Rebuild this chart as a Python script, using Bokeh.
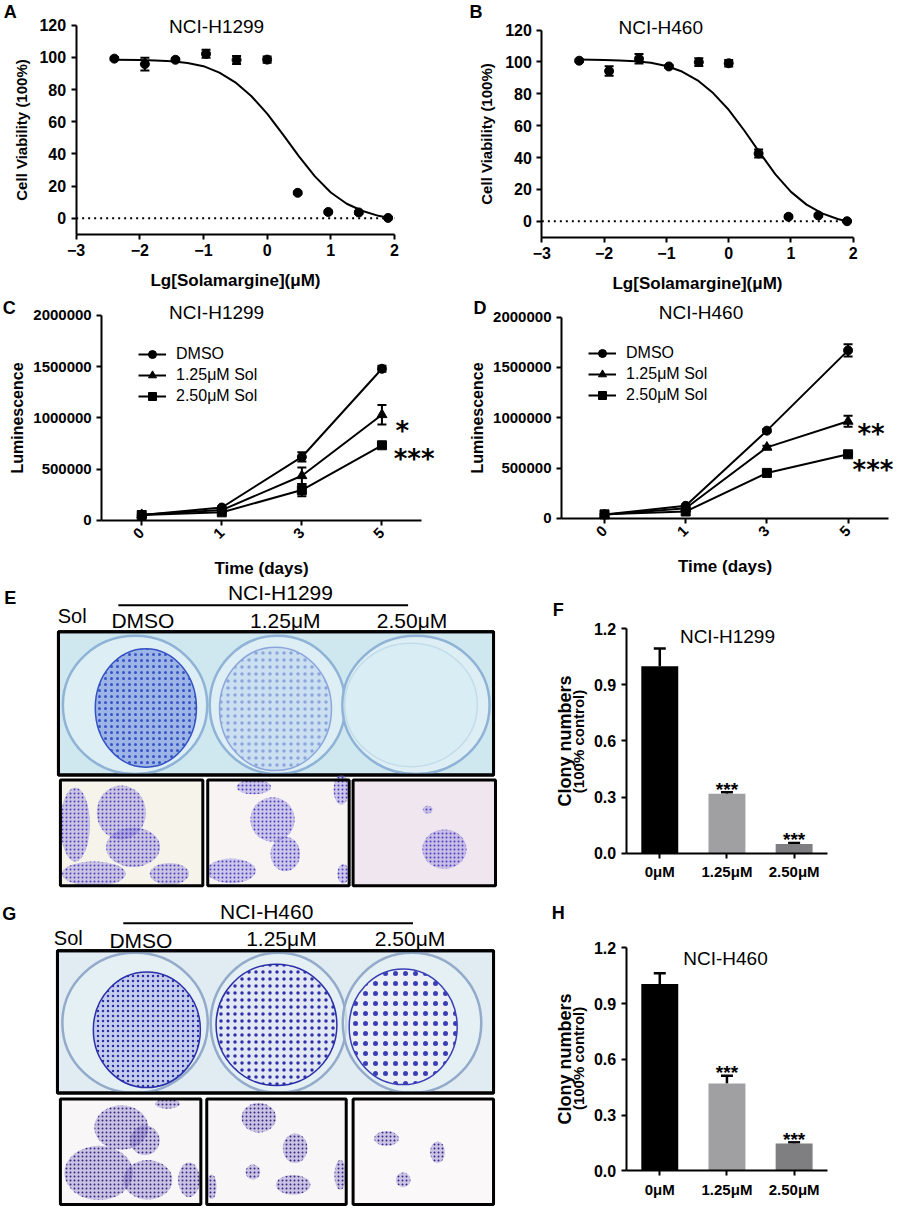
import math
from bokeh.plotting import figure
from bokeh.models import (Range1d, Label, Whisker, TeeHead, ColumnDataSource,
                          Legend, LegendItem, FixedTicker, NumeralTickFormatter,
                          BasicTickFormatter)
from bokeh.layouts import row, column
from bokeh.embed import file_html
from bokeh.resources import INLINE

FONT = "Liberation Sans"
STAR_FONT = "DejaVu Sans"

# ---------------- data ----------------
log_conc = [-2.4, -1.92, -1.44, -0.96, -0.48, 0.0, 0.48, 0.96, 1.44, 1.9]
viab_h1299 = [99.2, 95.8, 98.5, 102.2, 98.4, 98.6, 15.8, 3.9, 3.6, 0.2]
err_h1299 = [0.8, 4.0, 1.0, 2.5, 2.5, 2.0, 0.8, 0.8, 0.8, 0.5]
viab_h460 = [100.8, 94.3, 102.0, 97.2, 99.9, 99.2, 42.6, 2.9, 3.7, 0.1]
err_h460 = [0.8, 3.0, 3.0, 0.8, 2.5, 2.0, 2.5, 0.8, 0.8, 0.5]

fit_x = [-2.4, -2.0, -1.75, -1.5, -1.25, -1.0, -0.75, -0.5, -0.25, 0.0,
         0.25, 0.5, 0.75, 1.0, 1.25, 1.5, 1.75, 1.9]
fit_h1299 = [98.5, 98.3, 98.0, 97.5, 96.5, 94.5, 90.5, 84.5, 76.0, 65.0,
             52.0, 38.5, 26.0, 16.0, 9.0, 4.5, 1.5, 0.3]
fit_h460 = [101.5, 101.3, 101.0, 100.5, 99.5, 97.5, 94.0, 88.5, 80.5, 70.0,
            57.0, 43.0, 29.5, 18.5, 10.5, 5.0, 1.5, 0.0]

days = ["0", "1", "3", "5"]
series_names = ["DMSO", "1.25μM Sol", "2.50μM Sol"]
series_markers = ["circle", "triangle", "square"]
lum_h1299 = [[52000, 125000, 618000, 1478000],
             [55000, 100000, 435000, 1030000],
             [52000, 78000, 295000, 732000]]
lum_h1299_err = [[8000, 10000, 45000, 30000],
                 [6000, 8000, 80000, 95000],
                 [5000, 6000, 60000, 15000]]
lum_h460 = [[38000, 125000, 872000, 1670000],
            [35000, 100000, 706000, 965000],
            [40000, 68000, 452000, 637000]]
lum_h460_err = [[5000, 8000, 15000, 60000],
                [5000, 5000, 15000, 55000],
                [5000, 5000, 15000, 15000]]
stars_h1299 = ["", "*", "***"]
stars_h460 = ["", "**", "***"]

dose_cats = ["0μM", "1.25μM", "2.50μM"]
bar_colors = ["#000000", "#a0a0a2", "#7f7f81"]
clony_h1299 = [1.0, 0.317, 0.048]
clony_h1299_err = [0.095, 0.008, 0.006]
clony_h460 = [1.005, 0.47, 0.148]
clony_h460_err = [0.058, 0.042, 0.006]
bar_stars = ["", "***", "***"]

plate_labels = ["DMSO", "1.25μM", "2.50μM"]

# ---------------- layout helpers ----------------
KX = 897 / 913
KY = 1208 / 1224
ROW2_END = 587


class Panel:
    """Figure whose frame fills the whole cell; axes sit at fixed data locations."""

    def __init__(self, cell, frame, xr, yr):
        self.cell, self.frame, self.xr, self.yr = cell, frame, xr, yr
        x0, y0, x1, y1 = cell
        fx0, fy0, fx1, fy1 = frame
        self.sx = (xr[1] - xr[0]) / (fx1 - fx0)
        self.sy = (yr[1] - yr[0]) / (fy1 - fy0)
        X0, X1 = self.dx(x0), self.dx(x1)
        Y0, Y1 = self.dy(y1), self.dy(y0)
        W = round((x1 - x0) * KX)
        H = round((y1 - y0) * KY)
        p = figure(width=W, height=H, x_range=Range1d(X0, X1), y_range=Range1d(Y0, Y1),
                   title=None, min_border=0, frame_align=False,
                   output_backend="svg", toolbar_location=None)
        p.grid.visible = False
        p.outline_line_color = None
        p.xaxis.fixed_location = yr[0]
        p.yaxis.fixed_location = xr[0]
        p.xaxis.bounds = (xr[0], xr[1])
        p.yaxis.bounds = (yr[0], yr[1])
        for ax in (p.xaxis, p.yaxis):
            ax.axis_line_width = 2
            ax.axis_line_color = "black"
            ax.major_tick_line_width = 2
            ax.major_tick_line_color = "black"
            ax.major_tick_out = 5
            ax.major_tick_in = 0
            ax.minor_tick_line_color = None
            ax.major_label_text_font = FONT
            ax.major_label_text_font_style = "bold"
            ax.major_label_text_color = "black"
            ax.axis_label_text_font = FONT
            ax.axis_label_text_font_style = "bold"
            ax.axis_label_text_color = "black"
        self.p = p

    def dx(self, px):
        return self.xr[0] + (px - self.frame[0]) * self.sx

    def dy(self, py):
        return self.yr[1] - (py - self.frame[1]) * self.sy

    def put(self, px, py, text, size, bold=False, align="center",
            baseline="middle", angle=0.0, font=FONT):
        self.p.add_layout(Label(x=self.dx(px), y=self.dy(py), text=text, text_font=font,
                                text_font_size=f"{size}px",
                                text_font_style="bold" if bold else "normal",
                                text_align=align, text_baseline=baseline, angle=angle,
                                text_color="black"))

    def legend_loc(self, px_left, py_bottom):
        return (round((px_left - self.cell[0]) * KX), round((self.cell[3] - py_bottom) * KY))


# ---------------- dose-response panels ----------------
def dose_panel(cell, frame, letter, letter_pos, title, title_pos, ys, errs, fit_y):
    xr, yr = (-3, 2), (-10, 120)
    P = Panel(cell, frame, xr, yr)
    p = P.p
    p.xaxis.ticker = FixedTicker(ticks=[-3, -2, -1, 0, 1, 2])
    p.yaxis.ticker = FixedTicker(ticks=[0, 20, 40, 60, 80, 100, 120])
    p.xaxis.major_label_text_font_size = "16px"
    p.yaxis.major_label_text_font_size = "16px"
    p.xaxis.axis_label_text_font_size = "17px"
    p.yaxis.axis_label_text_font_size = "15px"
    p.xaxis.axis_label = "Lg[Solamargine](μM)"
    p.yaxis.axis_label = "Cell Viability (100%)"
    p.xaxis.axis_label_standoff = 11
    p.yaxis.axis_label_standoff = 7
    p.line(list(xr), [0, 0], line_color="black", line_width=2, line_dash="2 4")
    p.line(fit_x, fit_y, line_color="black", line_width=2)
    src = ColumnDataSource(dict(x=log_conc, y=ys,
                                lo=[a - b for a, b in zip(ys, errs)],
                                hi=[a + b for a, b in zip(ys, errs)]))
    p.add_layout(Whisker(source=src, base="x", lower="lo", upper="hi",
                         line_width=2, line_color="black",
                         upper_head=TeeHead(size=9, line_width=2, line_color="black"),
                         lower_head=TeeHead(size=9, line_width=2, line_color="black")))
    p.scatter("x", "y", source=src, marker="circle", size=9, color="black")
    P.put(letter_pos[0], letter_pos[1], letter, 18, bold=True)
    P.put(title_pos[0], title_pos[1], title, 19)
    return p


pA = dose_panel((0, 0, 456, 300), (77, 25, 401, 237), "A", (10, 12),
                "NCI-H1299", (220, 26), viab_h1299, err_h1299, fit_h1299)
pB = dose_panel((456, 0, 913, 300), (551, 30, 868, 240), "B", (484, 12),
                "NCI-H460", (672, 27), viab_h460, err_h460, fit_h460)


# ---------------- growth panels ----------------
def growth_panel(cell, frame, xr, letter, letter_pos, title, title_pos, data, errs,
                 stars, star_pos, legend_corner):
    yr = (0, 2000000)
    P = Panel(cell, frame, xr, yr)
    p = P.p
    idx = list(range(len(days)))
    p.xaxis.ticker = FixedTicker(ticks=idx)
    p.xaxis.major_label_overrides = {i: d for i, d in enumerate(days)}
    p.xaxis.major_label_orientation = math.pi / 4
    p.yaxis.ticker = FixedTicker(ticks=[0, 500000, 1000000, 1500000, 2000000])
    p.yaxis.formatter = BasicTickFormatter(use_scientific=False)
    p.xaxis.major_label_text_font_size = "15px"
    p.yaxis.major_label_text_font_size = "15px"
    p.xaxis.axis_label_text_font_size = "17px"
    p.yaxis.axis_label_text_font_size = "16px"
    p.xaxis.axis_label = "Time (days)"
    p.yaxis.axis_label = "Luminescence"
    p.xaxis.axis_label_standoff = 13
    p.yaxis.axis_label_standoff = 4
    items = []
    for name, marker, ys, es in zip(series_names, series_markers, data, errs):
        src = ColumnDataSource(dict(x=idx, y=ys,
                                    lo=[a - b for a, b in zip(ys, es)],
                                    hi=[a + b for a, b in zip(ys, es)]))
        l = p.line("x", "y", source=src, line_color="black", line_width=2)
        p.add_layout(Whisker(source=src, base="x", lower="lo", upper="hi",
                             line_width=2, line_color="black",
                             upper_head=TeeHead(size=9, line_width=2, line_color="black"),
                             lower_head=TeeHead(size=9, line_width=2, line_color="black")))
        s = p.scatter("x", "y", source=src, marker=marker,
                      size=10 if marker == "triangle" else 9, color="black")
        items.append(LegendItem(label=name, renderers=[l, s]))
    leg = Legend(items=items, location=P.legend_loc(*legend_corner), padding=0, margin=0,
                 spacing=1, glyph_width=28, glyph_height=20, label_height=20,
                 label_standoff=10, label_text_font=FONT, label_text_color="black",
                 label_text_font_size="16px", border_line_color=None,
                 background_fill_alpha=0)
    p.add_layout(leg)
    for st, (sx, sy) in zip(stars, star_pos):
        if st:
            P.put(sx, sy + 13, st, 26, bold=True, baseline="alphabetic", font=STAR_FONT)
    P.put(letter_pos[0], letter_pos[1], letter, 18, bold=True)
    P.put(title_pos[0], title_pos[1], title, 19)
    return p


pC = growth_panel((0, 300, 456, ROW2_END), (103, 319, 429, 527), (-0.5, 3.5), "C", (9, 312),
                  "NCI-H1299", (220, 316), lum_h1299, lum_h1299_err, stars_h1299,
                  [(0, 0), (409, 423), (421, 452)], (140, 412))
pD = growth_panel((456, 300, 913, ROW2_END), (571, 321, 904, 525), (-0.53, 3.5), "D", (488, 312),
                  "NCI-H460", (713, 316), lum_h460, lum_h460_err, stars_h460,
                  [(0, 0), (886, 426), (888, 463)], (599, 411))


# ---------------- clony bar panels ----------------
def bar_panel(cell, frame, letter, letter_pos, title, title_pos, vals, errs, ctrl_y):
    xr, yr = (-0.5, 2.5), (0, 1.2)
    P = Panel(cell, frame, xr, yr)
    p = P.p
    idx = list(range(len(dose_cats)))
    p.xaxis.ticker = FixedTicker(ticks=idx)
    p.xaxis.major_label_overrides = {i: c for i, c in enumerate(dose_cats)}
    p.yaxis.ticker = FixedTicker(ticks=[0, 0.3, 0.6, 0.9, 1.2])
    p.yaxis.formatter = NumeralTickFormatter(format="0.0")
    p.xaxis.major_label_text_font_size = "15px"
    p.yaxis.major_label_text_font_size = "16px"
    p.yaxis.axis_label = "Clony numbers"
    p.yaxis.axis_label_text_font_size = "18px"
    p.yaxis.axis_label_standoff = 16
    src = ColumnDataSource(dict(x=idx, top=vals, color=bar_colors,
                                hi=[a + b for a, b in zip(vals, errs)],
                                star=bar_stars))
    p.add_layout(Whisker(source=src, base="x", lower="top", upper="hi",
                         line_width=2.5, line_color="black",
                         upper_head=TeeHead(size=12, line_width=2.5, line_color="black"),
                         lower_head=None))
    p.vbar(x="x", top="top", bottom=0, width=0.55, fill_color="color", line_color=None,
           source=src)
    p.text(x="x", y="hi", text="star", source=src, text_align="center",
           text_baseline="alphabetic", y_offset=-3, text_font_size="19px",
           text_font_style="bold", text_color="black")
    P.put(588, ctrl_y, "(100% control)", 15, bold=True, angle=math.pi / 2)
    P.put(letter_pos[0], letter_pos[1], letter, 18, bold=True)
    P.put(title_pos[0], title_pos[1], title, 19)
    return p


pF = bar_panel((560, ROW2_END, 913, 910), (637, 637, 842, 864), "F", (568, 618),
               "NCI-H1299", (740, 645), clony_h1299, clony_h1299_err, 751)
pH = bar_panel((560, 910, 913, 1224), (637, 960, 842, 1186), "H", (568, 925),
               "NCI-H460", (738, 971), clony_h460, clony_h460_err, 1072)


# ---------------- plate photo panels (schematic) ----------------
def photo_panel(cell, letter, letter_pos, cell_line, cl_pos, line_y, line_x,
                sol_pos, lab_pos, plate, plate_bg, ring, wells, discs, micro,
                micro_bgs, blobs, blob_fill, blob_dot):
    x0, y0, x1, y1 = cell
    W = round((x1 - x0) * KX)
    H = round((y1 - y0) * KY)
    p = figure(width=W, height=H, x_range=Range1d(x0, x1), y_range=Range1d(y1, y0),
               x_axis_type=None, y_axis_type=None, min_border=0, title=None,
               frame_align=False, output_backend="svg", toolbar_location=None)
    p.grid.visible = False
    p.outline_line_color = None
    p.quad(left=[plate[0]], right=[plate[2]], top=[plate[1]], bottom=[plate[3]],
           fill_color=plate_bg, line_color="black", line_width=3)
    p.ellipse(x=[w[0] for w in wells], y=[w[1] for w in wells],
              width=[w[2] for w in wells], height=[w[3] for w in wells],
              fill_color="#e6f3f7", fill_alpha=0.6, line_color=ring, line_width=2.5)
    for d in discs:
        p.ellipse(x=[d[0]], y=[d[1]], width=[d[2]], height=[d[3]],
                  fill_color=d[4], line_color=d[5], line_width=1.5,
                  hatch_pattern="." if d[6] else " ", hatch_color=d[5],
                  hatch_scale=d[6] if d[6] else 12, hatch_weight=d[7])
    p.quad(left=[plate[0]], right=[plate[2]], top=[plate[1]], bottom=[plate[3]],
           fill_color=None, line_color="black", line_width=3)
    for (mx0, mx1), bg, bl in zip(micro[0], micro_bgs, blobs):
        p.quad(left=[mx0], right=[mx1], top=[micro[1]], bottom=[micro[2]],
               fill_color=bg, line_color=None)
        p.ellipse(x=[b[0] for b in bl], y=[b[1] for b in bl],
                  width=[b[2] for b in bl], height=[b[3] for b in bl],
                  fill_color=blob_fill, fill_alpha=0.35, line_color=None,
                  hatch_pattern=".", hatch_color=blob_dot, hatch_scale=4,
                  hatch_weight=1.6)
        p.quad(left=[mx0], right=[mx1], top=[micro[1]], bottom=[micro[2]],
               fill_color=None, line_color="black", line_width=3)
    p.segment(x0=[line_x[0]], y0=[line_y], x1=[line_x[1]], y1=[line_y],
              line_color="black", line_width=2)

    def lab(x, y, t, size=20, bold=False):
        p.add_layout(Label(x=x, y=y, text=t, text_font=FONT,
                           text_font_size=f"{size}px",
                           text_font_style="bold" if bold else "normal",
                           text_align="center", text_baseline="middle",
                           text_color="black"))
    lab(letter_pos[0], letter_pos[1], letter, 18, True)
    lab(cl_pos[0], cl_pos[1], cell_line, 21)
    lab(sol_pos[0], sol_pos[1], "Sol", 20)
    for t, (lx, ly) in zip(plate_labels, lab_pos):
        lab(lx, ly, t, 21)
    return p


pE = photo_panel(
    (0, ROW2_END, 560, 910), "E", (10, 606), "NCI-H1299", (285, 600), 613, (120, 415),
    (73, 624), [(145, 629), (290, 629), (419, 629)],
    (59, 640, 502, 785), "#cfe7ef", "#8fb3d6",
    [(137, 714, 147, 140), (282, 714, 138, 140), (423, 714, 150, 140)],
    [(148, 717, 103, 120, "#9db5e6", "#3553c4", 6, 2.2),
     (280, 718, 114, 125, "#cadff0", "#8ca6dc", 7, 1.6),
     (418, 714, 135, 125, "#d9edf4", "#c3dcea", 0, 1)],
    ([(61, 206), (211, 355), (359, 504)], 790, 897),
    ["#f6f3ea", "#f8f4f4", "#f0e6ef"],
    [[(123, 823, 50, 55), (135, 858, 55, 40), (76, 835, 30, 75), (95, 885, 65, 25),
      (172, 885, 40, 22)],
     [(277, 830, 45, 45), (290, 865, 30, 35), (235, 882, 50, 25), (258, 797, 35, 15),
      (347, 800, 16, 30), (349, 885, 12, 20)],
     [(452, 860, 45, 40), (435, 820, 10, 8)]],
    "#7a6fd6", "#4b3fc0")

pG = photo_panel(
    (0, 910, 560, 1224), "G", (9, 926), "NCI-H460", (271, 923), 935, (125, 420),
    (69, 950), [(143, 953), (286, 951), (417, 951)],
    (58, 963, 502, 1107), "#e0ecf1", "#93aacb",
    [(137, 1036, 148, 142), (283, 1036, 138, 142), (419, 1036, 141, 142)],
    [(149, 1043, 109, 117, "#c5cdec", "#2b2fa8", 5, 2.2),
     (281, 1038, 123, 123, "#e1e7f3", "#2b2fa8", 7, 1.7),
     (410, 1040, 110, 117, "#eaf0f6", "#3b3fb5", 10, 1.3)],
    ([(61, 204), (210, 352), (359, 502)], 1113, 1220),
    ["#f9f6f8", "#f9f6f8", "#fbf8fa"],
    [[(123, 1142, 55, 45), (100, 1188, 70, 55), (150, 1195, 50, 40), (147, 1155, 30, 30),
      (192, 1195, 22, 35), (170, 1118, 25, 10)],
     [(263, 1132, 35, 30), (300, 1163, 25, 30), (298, 1200, 35, 20), (257, 1187, 15, 15),
      (346, 1190, 12, 30), (215, 1202, 10, 25)],
     [(393, 1153, 25, 15), (445, 1167, 15, 22), (410, 1195, 15, 15)]],
    "#7565c0", "#35287e")

layout = column(row(pA, pB), row(pC, pD), row(pE, pF), row(pG, pH))
open("out.html", "w").write(file_html(layout, INLINE))
